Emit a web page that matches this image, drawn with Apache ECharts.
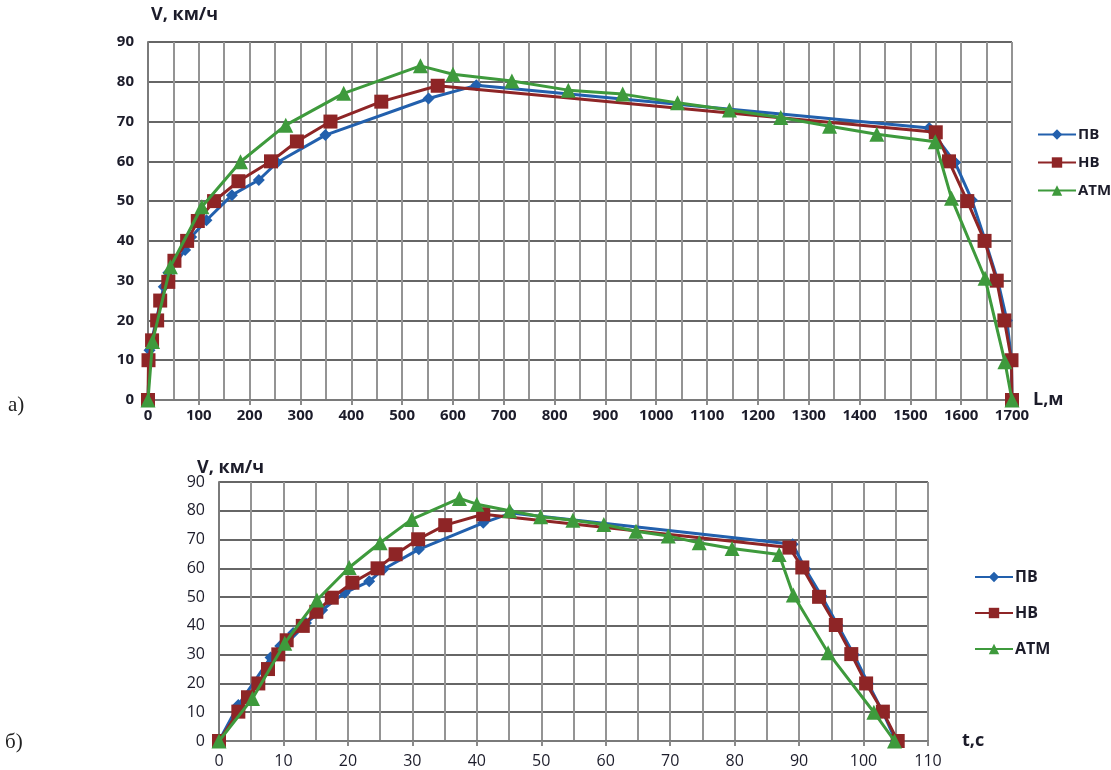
<!DOCTYPE html>
<html>
<head>
<meta charset="utf-8">
<script src="https://cdn.jsdelivr.net/npm/echarts@6/dist/echarts.min.js"></script>
<style>
  html, body { margin: 0; padding: 0; background: #fff; }
  #chart { width: 1111px; height: 770px; }
</style>
</head>
<body>
<div id="chart"></div>
<script>
// а) V(L): distance, m -> speed, km/h
const distPV = [
  [0, 0], [3, 12.5], [31, 28.5], [40, 32], [73, 37.7], [85, 41], [115, 45.2],
  [165, 51.5], [218, 55.3], [254, 59.7], [349, 66.6], [552, 75.8], [646, 79.1],
  [1537, 68.4], [1588, 59.7], [1621, 50.3], [1647, 40.2], [1672, 30],
  [1690, 20], [1699, 10], [1700, 0]
];
const distNV = [
  [0, 0], [1, 10], [8, 15], [18, 20], [24, 25], [40, 29.7], [52, 35], [77, 40],
  [98, 45], [130, 50], [178, 55], [242, 60], [293, 65], [359, 70], [459, 75],
  [570, 79], [1550, 67.3], [1576, 60], [1612, 50], [1646, 40], [1670, 30],
  [1685, 20], [1699, 10], [1700, 0]
];
const distATM = [
  [0, 0], [9, 14.7], [44, 33.5], [106, 48.6], [182, 59.9], [271, 69.1],
  [385, 77.1], [536, 84], [600, 81.9], [716, 80.2], [827, 77.9], [934, 76.9],
  [1042, 74.7], [1144, 72.9], [1245, 71], [1341, 68.8], [1434, 66.8],
  [1549, 64.9], [1581, 50.7], [1647, 30.6], [1686, 9.6], [1700, 0]
];

// б) V(t): time, s -> speed, km/h
const timePV = [
  [0, 0], [3, 12.5], [8, 29], [9.5, 33], [11.5, 37.5], [13.5, 41], [16, 45.5],
  [19.5, 51.5], [23.3, 55.5], [25.5, 59.7], [31, 66.6], [41, 75.8], [45.3, 79.2],
  [89, 68.4], [91, 59.7], [93.5, 50.3], [96, 40.2], [98.5, 30], [100.7, 20],
  [103, 10], [105, 0]
];
const timeNV = [
  [0, 0], [3, 10.2], [4.5, 15.2], [6.1, 20], [7.6, 25], [9.2, 30.1], [10.5, 35],
  [13, 40], [15.1, 44.9], [17.5, 49.8], [20.7, 55], [24.6, 60], [27.4, 64.9],
  [30.9, 70.1], [35.1, 75], [41, 78.8], [88.5, 67.2], [90.5, 60.3], [93.1, 50.1],
  [95.7, 40.3], [98.1, 30.2], [100.4, 20], [103, 10.2], [105.3, 0]
];
const timeATM = [
  [0, 0], [5.2, 14.8], [10.2, 34], [15.2, 49], [20.2, 60.3], [25, 68.9],
  [29.9, 77], [37.3, 84.3], [40, 82.3], [45.1, 80], [49.9, 77.9], [54.9, 76.7],
  [59.7, 75.2], [64.7, 72.9], [69.7, 71.2], [74.5, 68.9], [79.6, 66.9],
  [86.9, 64.8], [89.1, 50.7], [94.5, 30.7], [101.6, 10], [104.8, 0]
];

const seriesNames = ["ПВ", "НВ", "АТМ"];
const colors = ["#2260ad", "#8e2526", "#3e9a3c"];
const symbols = ["diamond", "rect", "triangle"];
const symbolSizes = [12, 14, 15];

const font = "'Open Sans', 'Noto Sans', sans-serif";
const labelColor = "#1c1c2a";

const chart = echarts.init(document.getElementById("chart"));

function makeSeries(data, idx, axisIdx) {
  return {
    name: seriesNames[idx],
    type: "line",
    xAxisIndex: axisIdx,
    yAxisIndex: axisIdx,
    data: data,
    symbol: symbols[idx],
    symbolSize: symbolSizes[idx],
    showAllSymbol: true,
    animation: false,
    lineStyle: { color: colors[idx], width: 3 },
    itemStyle: { color: colors[idx] },
    z: 2 + idx,
  };
}

function xAxisCfg(gridIdx, max, interval, name, nameGap, bold, fontSize, labelMargin) {
  return {
    type: "value",
    gridIndex: gridIdx,
    min: 0,
    max: max,
    interval: interval,
    name: name,
    nameLocation: "end",
    nameGap: nameGap,
    nameTextStyle: { fontFamily: font, fontWeight: "bold", fontSize: 18, color: labelColor, verticalAlign: "middle" },
    axisLine: { show: true, lineStyle: { color: "#7a7a7a", width: 2 } },
    axisTick: { show: true, length: 5, lineStyle: { color: "#8a8a8a", width: 2 } },
    minorTick: { show: false, splitNumber: 2 },
    axisLabel: {
      fontFamily: font, fontWeight: bold ? "bold" : "normal", fontSize: fontSize,
      color: labelColor, margin: labelMargin, formatter: (v) => String(v),
    },
    splitLine: { show: true, lineStyle: { color: "#949494", width: 2 } },
    minorSplitLine: { show: true, lineStyle: { color: "#949494", width: 2 } },
  };
}

function yAxisCfg(gridIdx, bold, fontSize) {
  return {
    type: "value",
    gridIndex: gridIdx,
    min: 0,
    max: 90,
    interval: 10,
    axisLine: { show: true, lineStyle: { color: "#7a7a7a", width: 2 } },
    axisTick: { show: false },
    axisLabel: { fontFamily: font, fontWeight: bold ? "bold" : "normal", fontSize: fontSize, color: labelColor, margin: 14 },
    splitLine: { show: true, lineStyle: { color: "#666", width: 2 } },
  };
}

function legendCfg(left, top, gap, fontSize) {
  return {
    orient: "vertical",
    left: left,
    top: top,
    itemWidth: 38,
    itemHeight: 13,
    itemGap: gap,
    data: seriesNames,
    textStyle: { fontFamily: font, fontWeight: "bold", fontSize: fontSize, color: labelColor, padding: [0, 0, 0, -3] },
  };
}

chart.setOption({
  backgroundColor: "#ffffff",
  animation: false,
  grid: [
    { left: 148, right: 99, top: 42, bottom: 370 },
    { left: 219, right: 183, top: 482, bottom: 29 },
  ],
  legend: [legendCfg(1032, 122, 13, 15), legendCfg(969, 564, 20, 16)],
  xAxis: [
    xAxisCfg(0, 1700, 100, "L,м", 16, true, 15, 8),
    xAxisCfg(1, 110, 10, "t,c", 34, false, 16, 12),
  ],
  yAxis: [yAxisCfg(0, true, 15), yAxisCfg(1, false, 16)],
  graphic: [
    { type: "text", left: 151, top: 6, style: { text: "V, км/ч", font: "bold 18px " + font, fill: labelColor } },
    { type: "text", left: 197, top: 459, style: { text: "V, км/ч", font: "bold 18px " + font, fill: labelColor } },
    { type: "text", left: 8, top: 395, style: { text: "а)", font: "21px 'Liberation Serif', serif", fill: "#222" } },
    { type: "text", left: 5, top: 732, style: { text: "б)", font: "21px 'Liberation Serif', serif", fill: "#222" } },
  ],
  series: [
    makeSeries(distPV, 0, 0),
    makeSeries(distNV, 1, 0),
    makeSeries(distATM, 2, 0),
    makeSeries(timePV, 0, 1),
    makeSeries(timeNV, 1, 1),
    makeSeries(timeATM, 2, 1),
  ],
});
</script>
</body>
</html>
